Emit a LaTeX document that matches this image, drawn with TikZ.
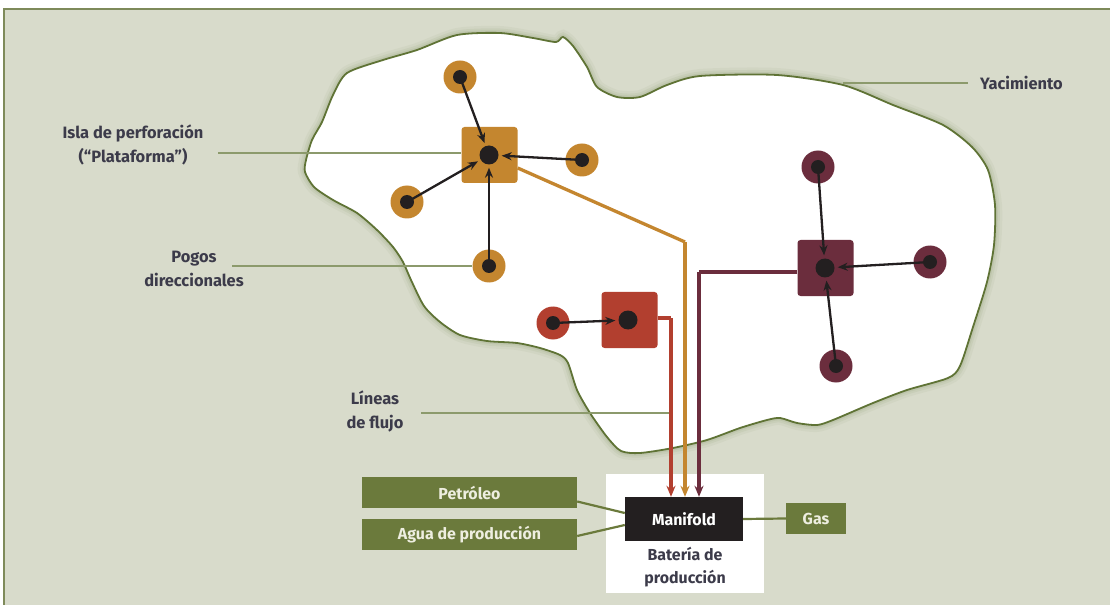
\documentclass[tikz,border=0pt]{standalone}
\usepackage{fontspec}
\setmainfont{Fira Sans}
\usetikzlibrary{arrows.meta,calc}
\definecolor{bgc}{HTML}{D8DBCB}
\definecolor{framec}{HTML}{7E8A5A}
\definecolor{outc}{HTML}{5F7335}
\definecolor{leadc}{HTML}{8C9A6C}
\definecolor{orc}{HTML}{C4862F}
\definecolor{redc}{HTML}{B23F2F}
\definecolor{purc}{HTML}{6B2D3D}
\definecolor{dotc}{HTML}{231F20}
\definecolor{boxc}{HTML}{6B7A3C}
\definecolor{boxt}{HTML}{EEEEE0}
\definecolor{labc}{HTML}{3C3B4A}
\tikzset{
  platform/.style={rectangle, rounded corners=3bp, minimum size=56bp, inner sep=0pt, fill=#1},
  pdot/.style={circle, fill=dotc, minimum size=19bp, inner sep=0pt},
  well/.style={circle, fill=#1, minimum size=33bp, inner sep=0pt,
    path picture={\fill[dotc] (path picture bounding box.center) circle (7bp);}},
  warr/.style={draw=dotc, line width=2.3bp, -{Stealth[length=10bp,width=8bp]}, shorten >=3bp},
  flow/.style={draw=#1, line width=3.3bp},
  flowarr/.style={draw=#1, line width=3.3bp, -{Stealth[length=11bp,width=9bp]}},
  leader/.style={draw=leadc, line width=1.1bp},
  lab/.style={text=labc, align=center, font=\bfseries\fontsize{16.5}{24}\selectfont},
  gbox/.style={rectangle, fill=boxc, text=boxt, minimum width=#1, minimum height=31bp, inner sep=0pt, font=\bfseries\fontsize{16}{18}\selectfont},
  conn/.style={draw=boxc, line width=2.2bp}
}
\begin{document}
\begin{tikzpicture}[x=1bp,y=-1bp]
\useasboundingbox (0,0) rectangle (1110,605);
\fill[white] (0,0) rectangle (1110,605);
\fill[bgc] (4,9) rectangle (1110,605);
\draw[framec, line width=2.2bp] (4,605) -- (4,9) -- (1110,9);
% reservoir outline
\def\resv{plot[smooth cycle, tension=0.45] coordinates {
(306,160) (312,140) (322,122) (333,95) (347,73) (383,60) (417,50) (457,35) (500,33) (533,38) (556,42) (563,37) (573,46) (587,67) (597,87) (617,97) (640,97) (667,85) (700,76) (777,75) (843,85) (893,105) (943,125) (972,147) (988,170) (995,205) (994,245) (987,282) (973,327) (960,366) (948,378) (907,390) (873,403) (833,420) (817,425) (797,423) (780,418) (767,420) (740,428) (707,440) (673,448) (640,453) (621,451) (607,437) (590,413) (577,390) (568,363) (560,355) (540,348) (517,343) (487,341) (460,335) (440,322) (424,306) (411,280) (403,262) (393,247) (377,230) (357,213) (333,200) (314,187) (305,172)}}
\draw[outc, line width=14bp, opacity=0.05] \resv;
\draw[outc, line width=9bp, opacity=0.07] \resv;
\draw[outc, line width=5bp, opacity=0.09] \resv;
\fill[white] \resv;
\draw[outc, line width=1.8bp] \resv;
% bottom white box
\fill[white] (606,474) rectangle (764,593);
% platforms
\node[platform=orc] (p1) at (489.5,155) {};
\node[pdot] (p1d) at (489,155) {};
\node[platform=redc] (p2) at (629.5,320) {};
\node[pdot] (p2d) at (628,320) {};
\node[platform=purc] (p3) at (825.5,268) {};
\node[pdot] (p3d) at (825,268) {};
% wells
\node[well=orc] (w1) at (460,77) {};
\node[well=orc] (w2) at (582,160) {};
\node[well=orc] (w3) at (407,202) {};
\node[well=orc] (w4) at (489,266) {};
\node[well=redc] (w5) at (553,323) {};
\node[well=purc] (w6) at (818,167) {};
\node[well=purc] (w7) at (930,262) {};
\node[well=purc] (w8) at (836,366) {};
\foreach \w/\p in {w1/p1d,w2/p1d,w3/p1d,w4/p1d,w5/p2d,w6/p3d,w7/p3d,w8/p3d}
  \draw[warr] (\w.center) -- (\p);
% manifold and outputs
\node[rectangle, fill=dotc, text=white, minimum width=118bp, minimum height=44bp, inner sep=0pt, font=\bfseries\fontsize{16}{18}\selectfont] (man) at (684,519) {Manifold};
\node[lab, font=\bfseries\fontsize{16}{22.5}\selectfont] (bat) at (685,567) {Batería de\\producción};
\node[gbox=215bp] (pet) at (469.5,492.5) {Petróleo};
\node[gbox=215bp] (agua) at (469.5,534.5) {Agua de producción};
\node[gbox=60bp] (gas) at (816,518.5) {Gas};
\draw[conn] ($(pet.east)+(0,9)$) -- ($(man.west)+(0,-6)$);
\draw[conn] ($(agua.east)+(0,1.5)$) -- ($(man.west)+(0,6)$);
\draw[conn] (man.east) -- (gas.west);
% flow lines
\coordinate (o1) at (685,242);
\coordinate (r1) at (671,318);
\coordinate (q1) at (699,272);
\draw[flow=orc] ($(p1.east)+(0,13)$) -- (o1);
\draw[flowarr=orc] (o1) -- (o1 |- man.north);
\draw[flow=redc] ($(p2.east)+(0,-2)$) -- (r1);
\draw[flowarr=redc] (r1) -- (r1 |- man.north);
\draw[flow=purc] ($(p3.west)+(0,4)$) -- (q1);
\draw[flowarr=purc] (q1) -- (q1 |- man.north);
% labels and leaders
\node[lab] (isla) at (133,145) {Isla de perforación\\(“Plataforma”)};
\coordinate (islaL) at (218,153);
\draw[leader] (islaL) -- (p1.west |- islaL);
\node[lab] (pozos) at (194,269) {Pogos\\direccionales};
\coordinate (pozL) at (232,266);
\draw[leader] (pozL) -- (w4.west);
\node[lab] (lineas) at (375,411) {Líneas\\de flujo};
\coordinate (linL) at (421,413);
\coordinate (linR) at (669,413);
\draw[leader] (linL) -- (linR);
\node[lab, anchor=west, inner sep=0pt] (yac) at (980,83) {Yacimiento};
\coordinate (yacL) at (843,83);
\coordinate (yacR) at (968,83);
\draw[leader] (yacL) -- (yacR);
\end{tikzpicture}
\end{document}
